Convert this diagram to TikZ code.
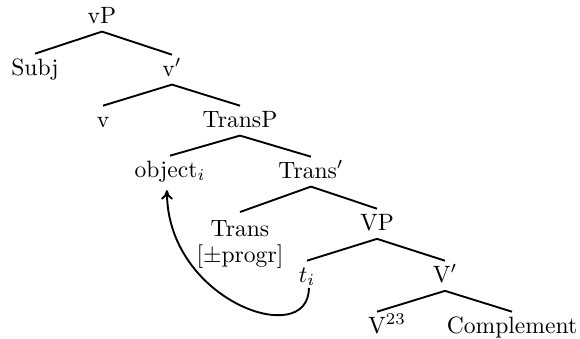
\documentclass[tikz,border=0pt]{standalone}
\usetikzlibrary{arrows.meta}
\begin{document}
\begin{tikzpicture}[x=0.4237pt,y=-0.4237pt,
  tn/.style={anchor=base,text height=5.5pt,inner sep=3.33pt},
  br/.style={line width=0.8pt},
  mv/.style={line width=0.8pt,-{To[length=4pt,width=5pt]}}]
\useasboundingbox (0,0) rectangle (580,338);
\node[tn] (vP) at (102,23) {vP};
\node[tn] (Subj) at (35,75) {Subj};
\node[tn] (vbar) at (172,76) {v$'$};
\node[tn] (v) at (103,127) {v};
\node[tn] (TransP) at (240,127) {TransP};
\node[tn] (obj) at (170,177) {object$_i$};
\node[tn] (Transbar) at (311,178) {Trans$'$};
\node[anchor=north,align=center,inner sep=3.33pt] (Trans) at (240,212) {Trans\\[-1pt][$\pm$progr]};
\node[tn] (VP) at (377,230) {VP};
\node[tn] (t) at (307,282) {$t_i$};
\node[tn] (Vbar) at (445,282) {V$'$};
\node[tn] (V) at (377,333) {V\rlap{$^{23}$}};
\node[tn] (Comp) at (512,333) {Complement};
\draw[br] (vP.south) -- (Subj.north);
\draw[br] (vP.south) -- (vbar.north);
\draw[br] (vbar.south) -- (v.north);
\draw[br] (vbar.south) -- (TransP.north);
\draw[br] (TransP.south) -- (obj.north);
\draw[br] (TransP.south) -- (Transbar.north);
\draw[br] (Transbar.south) -- (Trans.north);
\draw[br] (Transbar.south) -- (VP.north);
\draw[br] (VP.south) -- (t.north);
\draw[br] (VP.south) -- (Vbar.north);
\draw[br] (Vbar.south) -- (V.north);
\draw[br] (Vbar.south) -- (Comp.north);
\draw[mv] ([xshift=0.8pt,yshift=2.5pt]t.south) .. controls +(0,62) and +(0,111) .. ([xshift=-1.3pt]obj.south);
\end{tikzpicture}
\end{document}
